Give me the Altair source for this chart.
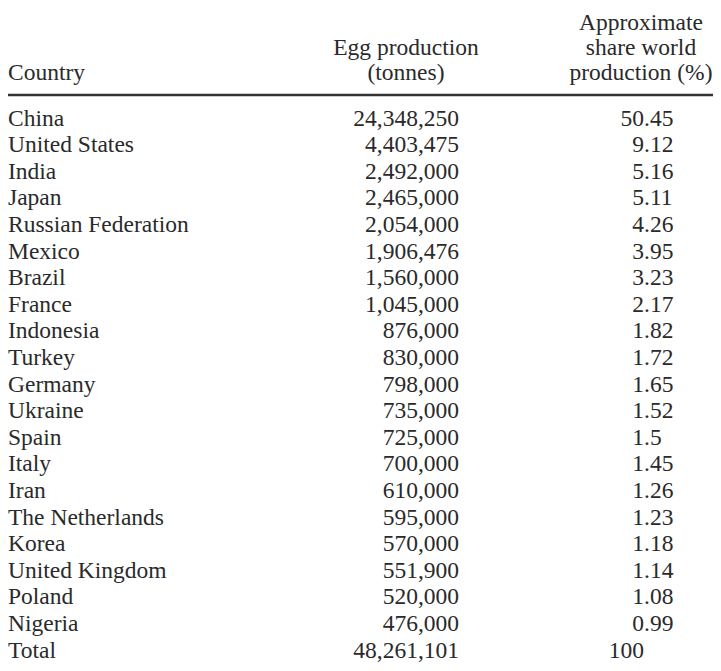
import altair as alt
import pandas as pd

countries = ["China", "United States", "India", "Japan", "Russian Federation", "Mexico",
             "Brazil", "France", "Indonesia", "Turkey", "Germany", "Ukraine", "Spain",
             "Italy", "Iran", "The Netherlands", "Korea", "United Kingdom", "Poland",
             "Nigeria", "Total"]
egg_tonnes = [24348250, 4403475, 2492000, 2465000, 2054000, 1906476, 1560000, 1045000,
              876000, 830000, 798000, 735000, 725000, 700000, 610000, 595000, 570000,
              551900, 520000, 476000, 48261101]
share_pct = ["50.45", "9.12", "5.16", "5.11", "4.26", "3.95", "3.23", "2.17", "1.82",
             "1.72", "1.65", "1.52", "1.5", "1.45", "1.26", "1.23", "1.18", "1.14",
             "1.08", "0.99", "100"]

header_country = ["", "", "Country"]
header_egg = ["", "Egg production", "(tonnes)"]
header_share = ["Approximate", "share world", "production (%)"]

FONT = "Liberation Serif"
SIZE = 23.5
COLOR = "#2a2a2a"

rows = pd.DataFrame({
    "row": list(range(len(countries))),
    "country": countries,
    "egg": egg_tonnes,
    "share_int": [s.split(".")[0] for s in share_pct],
    "share_frac": ["." + s.split(".")[1] if "." in s else "" for s in share_pct],
})
heads = pd.DataFrame({
    "line": [0, 1, 2],
    "country": header_country,
    "egg": header_egg,
    "share": header_share,
})

W, H = 705, 655
yrow = alt.Y("row:Q", scale=alt.Scale(domain=[0, 20], range=[117.5, 649.5]), axis=None)
yhead = alt.Y("line:Q", scale=alt.Scale(domain=[0, 2], range=[21.5, 72]), axis=None)


def txt(data, align):
    return alt.Chart(data).mark_text(align=align, baseline="alphabetic", font=FONT,
                                     fontSize=SIZE, color=COLOR)


body = alt.layer(
    txt(rows, "left").encode(x=alt.value(0), y=yrow, text="country:N"),
    txt(rows, "right").encode(x=alt.value(451), y=yrow, text=alt.Text("egg:Q", format=",")),
    txt(rows, "right").encode(x=alt.value(636), y=yrow, text="share_int:N"),
    txt(rows, "left").encode(x=alt.value(636), y=yrow, text="share_frac:N"),
)

head = alt.layer(
    txt(heads, "left").encode(x=alt.value(0), y=yhead, text="country:N"),
    txt(heads, "center").encode(x=alt.value(398), y=yhead, text="egg:N"),
    txt(heads, "center").encode(x=alt.value(633), y=yhead, text="share:N"),
)

rule = alt.Chart(pd.DataFrame({"k": [0]})).mark_rule(color="#333333", strokeWidth=2.5).encode(
    x=alt.value(0), x2=alt.value(W), y=alt.value(87)
)

chart = alt.layer(head, rule, body).resolve_scale(y="independent").properties(
    width=W, height=H, padding=0, autosize=alt.AutoSizeParams(type="none")
).configure_view(strokeWidth=0)

chart.save("out.html", embed_options={"renderer": "svg", "actions": False})
